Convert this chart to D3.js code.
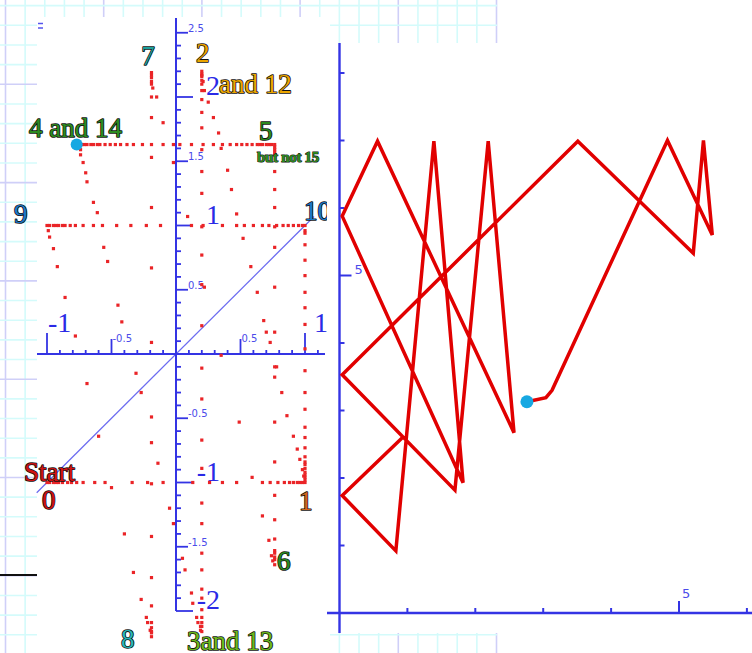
<!DOCTYPE html>
<html><head><meta charset="utf-8">
<script src="https://cdn.jsdelivr.net/npm/d3@7"></script>
<style>html,body{margin:0;padding:0;background:#fff;overflow:hidden}</style>
</head><body>
<svg id="c" width="752" height="653" xmlns="http://www.w3.org/2000/svg"></svg>
<script>
// ---------------- DATA (left: sampled positions of the moving point) ----------------
const keyframes = [[-1,-1],[1,-1],[0.2,2.2],[0.2,-2.17],[-0.77,1.63],[0.765,1.63],[0.765,-1.64],[-0.19,2.19],[-0.19,-2.2],[-1,1],[1,1]];
const row01X = [-1.00,-0.98,-0.95,-0.93,-0.91,-0.88,-0.84,-0.81,-0.77,-0.72,-0.63,-0.55,-0.34,-0.22,-0.10,0.13,0.26,0.36,0.47,0.67,0.73,0.79,0.84,0.88,0.91,0.94,0.96,0.98,1.00]; // y = -1
const curve12 = [[0.99,-0.95],[0.98,-0.90],[0.96,-0.82],[0.94,-0.74],[0.91,-0.64],[0.86,-0.48],[0.82,-0.30],[0.78,-0.10],[0.73,0.09],[0.70,0.17],[0.68,0.26],[0.63,0.48],[0.58,0.68],[0.52,0.90],[0.47,1.09],[0.43,1.28],[0.40,1.43],[0.35,1.60],[0.33,1.72],[0.29,1.84],[0.25,1.96],[0.22,2.05],[0.21,2.12],[0.20,2.17]];
const col23Y = [2.20,2.18,2.16,2.13,2.10,2.05,1.98,1.88,1.76,1.59,1.42,1.25,0.99,0.77,0.54,0.22,-0.11,-0.35,-0.67,-0.89,-1.16,-1.32,-1.55,-1.68,-1.83,-1.90,-1.99,-2.05,-2.09,-2.12,-2.16]; // x = 0.2
const curve34 = [[0.19,-2.15],[0.19,-2.12],[0.17,-2.09],[0.16,-2.05],[0.13,-1.94],[0.12,-1.86],[0.07,-1.68],[0.05,-1.59],[-0.02,-1.32],[-0.05,-1.20],[-0.14,-0.85],[-0.27,-0.30],[-0.31,-0.15],[-0.42,0.25],[-0.45,0.38],[-0.53,0.72],[-0.56,0.83],[-0.61,1.10],[-0.64,1.18],[-0.69,1.34],[-0.70,1.41],[-0.72,1.49],[-0.74,1.55],[-0.74,1.59],[-0.76,1.62]];
const row45X = [-0.73,-0.71,-0.69,-0.66,-0.64,-0.61,-0.59,-0.55,-0.51,-0.47,-0.43,-0.38,-0.33,-0.26,-0.19,-0.10,-0.02,0.03,0.12,0.21,0.29,0.36,0.42,0.47,0.51,0.55,0.59,0.63,0.65,0.67,0.70,0.72,0.74,0.765]; // y = 1.63
const col56Y = [1.61,1.59,1.57,1.55,1.42,1.28,1.14,0.99,0.83,0.52,0.17,-0.10,-0.18,-0.53,-0.84,-1.10,-1.29,-1.44,-1.53,-1.55,-1.58,-1.60,-1.64]; // x = 0.765
const curve67 = [[0.75,-1.61],[0.74,-1.57],[0.72,-1.45],[0.67,-1.26],[0.59,-0.96],[0.49,-0.53],[0.35,-0.01],[0.22,0.52],[0.09,1.07],[-0.02,1.49],[-0.10,1.80],[-0.15,2.00],[-0.18,2.07]];
const col78Y = [2.19,2.17,2.15,2.12,2.10,2.00,1.84,1.53,1.14,0.67,0.09,-0.49,-0.69,-1.01,-1.42,-1.74,-1.96,-2.09,-2.13,-2.16,-2.20]; // x = -0.19
const curve89 = [[-0.19,-2.17],[-0.20,-2.15],[-0.22,-2.09],[-0.23,-2.05],[-0.27,-1.91],[-0.33,-1.70],[-0.40,-1.40],[-0.50,-1.04],[-0.60,-0.64],[-0.69,-0.23],[-0.78,0.14],[-0.86,0.44],[-0.92,0.68],[-0.95,0.82],[-0.98,0.91],[-0.99,0.96]];
const row910X = [-1.00,-0.98,-0.95,-0.93,-0.91,-0.88,-0.86,-0.82,-0.78,-0.72,-0.64,-0.57,-0.46,-0.35,-0.23,-0.12,0.12,0.21,0.36,0.47,0.53,0.60,0.67,0.72,0.78,0.83,0.87,0.91,0.95,0.98,1.00]; // y = 1
const col1011Y = [0.96,0.94,0.85,0.73,0.61,0.48,0.36,0.23,0.04,-0.13,-0.30,-0.43,-0.57,-0.65,-0.73,-0.80,-0.84,-0.86,-0.89,-0.92,-0.94,-0.96,-0.98]; // x = 1
const currentPoint = [-0.77, 1.63];

// annotations (text, x, y in left data units, colour)
const labelText  = ["7","2","and 12","4 and 14","5","9","10","Start","0","1","6","8","3and 13"];
const labelX     = [-0.27,0.155,0.333,-1.14,0.643,-1.256,0.992,-1.178,-1.039,0.953,0.783,-0.426,0.085];
const labelY     = [2.25,2.27,2.03,1.69,1.665,1.019,1.043,-0.99,-1.205,-1.214,-1.681,-2.29,-2.305];
const labelColor = ["#1d9f9b","#eba500","#eba500","#2c8a1f","#2c8a1f","#1c78c6","#1c78c6","#d01212","#d01212","#d2661a","#2c8a1f","#27b7b7","#6cb81c"];
const noteText = "but not 15", noteX = 0.628, noteY = 1.494;

// axis tick labels
const yBigTicks = [2,1,-1,-2], ySmallTicks = [2.5,1.5,0.5,-0.5,-1.5];
const xBigTicks = [-1,1], xSmallTicks = [-0.5,0.5];

// ---------------- DATA (right: trace) ----------------
const traceX = [0.94,0.04,0.83,1.39,1.82,0.04,0.56,2.57,2.19,1.70,0.04,3.51,5.21,5.36,5.49,4.83,3.13,3.04,2.76];
const traceY = [2.61,1.74,0.92,6.99,1.93,5.88,6.99,2.67,6.99,1.82,3.53,6.99,5.33,7.00,5.60,7.00,3.30,3.19,3.13];
const rightXTicks = [1,2,3,4,5,6], rightYTicks = [1,2,3,4,5,6,7,8];

// ---------------- DRAW ----------------
const svg = d3.select("#c");
const FONT_SERIF = "'Liberation Serif','Times New Roman',serif";
const FONT_SANS = "'DejaVu Sans',Verdana,sans-serif";
const AX = "#3434e4";

// graph-paper background
const grid = svg.append("g");
grid.append("rect").attr("width",497).attr("height",653).attr("fill","#fff");
d3.range(0,26).forEach(k=>{
  grid.append("line").attr("x1",5.5+19.64*k).attr("x2",5.5+19.64*k).attr("y1",0).attr("y2",653)
    .attr("stroke", k%5===0 ? "#cfcff8" : "#d4fbfb").attr("stroke-width",1.6);
});
d3.range(0,34).forEach(k=>{
  grid.append("line").attr("y1",5.66+19.66*k).attr("y2",5.66+19.66*k).attr("x1",0).attr("x2",497)
    .attr("stroke", k%5===4 ? "#cfcff8" : "#d4fbfb").attr("stroke-width",1.6);
});
svg.append("line").attr("x1",0).attr("x2",37).attr("y1",575).attr("y2",575).attr("stroke","#111").attr("stroke-width",2);

// left panel
svg.append("rect").attr("x",37).attr("y",17).attr("width",293).attr("height",636).attr("fill","#fff");
svg.append("line").attr("x1",38).attr("x2",43).attr("y1",23.5).attr("y2",23.5).attr("stroke","#5555ee").attr("stroke-width",1.5);
svg.append("line").attr("x1",38).attr("x2",43).attr("y1",28).attr("y2",28).attr("stroke","#5555ee").attr("stroke-width",1.5);

const xL = d3.scaleLinear().domain([-1,1]).range([47,305]);
const yL = d3.scaleLinear().domain([-1,1]).range([482.5,225.5]);
const L = svg.append("g");

// diagonal
L.append("line").attr("x1",xL(-1.08)).attr("y1",yL(-1.08)).attr("x2",xL(1.07)).attr("y2",yL(1.07))
  .attr("stroke","#6c6cf0").attr("stroke-width",1.3);

// y axis
L.append("line").attr("x1",xL(0)).attr("x2",xL(0)).attr("y1",18).attr("y2",yL(-2)).attr("stroke",AX).attr("stroke-width",2);
d3.range(-20,26).forEach(i=>{
  if(i===0) return;
  const len = i%10===0 ? 17 : (i%5===0 ? 12 : 5);
  L.append("line").attr("x1",xL(0)).attr("x2",xL(0)+len).attr("y1",yL(i/10)).attr("y2",yL(i/10)).attr("stroke",AX).attr("stroke-width",1.8);
});
// x axis
L.append("line").attr("x1",37).attr("x2",325).attr("y1",yL(0)).attr("y2",yL(0)).attr("stroke",AX).attr("stroke-width",2);
d3.range(-10,12).forEach(i=>{
  if(i===0) return;
  const len = i%10===0 ? 21 : (i%5===0 ? 15 : 4);
  L.append("line").attr("x1",xL(i/10)).attr("x2",xL(i/10)).attr("y1",yL(0)).attr("y2",yL(0)-len).attr("stroke",AX).attr("stroke-width",1.8);
});
// tick labels
ySmallTicks.forEach(v=>L.append("text").attr("x",xL(0)+12).attr("y",yL(v)-1).text(v).attr("font-family",FONT_SANS).attr("font-size",10).attr("fill","#4b4bea"));
xSmallTicks.forEach(v=>L.append("text").attr("x",xL(v)+1).attr("y",yL(0)-12).text(v).attr("font-family",FONT_SANS).attr("font-size",10).attr("fill","#4b4bea"));
yBigTicks.forEach(v=>L.append("text").attr("x",xL(0)+44).attr("y",yL(v)-2).attr("text-anchor","end").text(v<0?"-"+(-v):v).attr("font-family",FONT_SERIF).attr("font-size",28).attr("fill","#2a2ae6"));
xBigTicks.forEach(v=>L.append("text").attr("x",xL(v)+(v<0?1:9)).attr("y",yL(0)-22).text(v<0?"-"+(-v):v).attr("font-family",FONT_SERIF).attr("font-size",28).attr("fill","#2a2ae6"));

// dots
const allDots = [].concat(
  row01X.map(x=>[x,-1]), curve12, col23Y.map(y=>[0.2,y]), curve34,
  row45X.map(x=>[x,1.63]), col56Y.map(y=>[0.765,y]), curve67, col78Y.map(y=>[-0.19,y]),
  curve89, row910X.map(x=>[x,1]), col1011Y.map(y=>[1,y]));
L.selectAll("rect.dot").data(allDots).enter().append("rect").attr("class","dot")
  .attr("x",d=>xL(d[0])-1.6).attr("y",d=>yL(d[1])-1.6).attr("width",3.2).attr("height",3.2).attr("fill","#ea2427");
L.append("circle").attr("cx",xL(currentPoint[0])).attr("cy",yL(currentPoint[1])).attr("r",6).attr("fill","#17a8e2");

// annotations
labelText.forEach((t,i)=>{
  L.append("text").attr("x",xL(labelX[i])).attr("y",yL(labelY[i])).text(t)
   .attr("font-family",FONT_SERIF).attr("font-size",27).attr("fill",labelColor[i])
   .attr("stroke","#111").attr("stroke-width",1.6).attr("paint-order","stroke").attr("stroke-linejoin","round");
});
L.append("text").attr("x",xL(noteX)).attr("y",yL(noteY)).text(noteText)
  .attr("font-family",FONT_SERIF).attr("font-size",15).attr("font-weight","bold").attr("letter-spacing",-0.3)
  .attr("fill","#2c8a1f").attr("stroke","#111").attr("stroke-width",1.1).attr("paint-order","stroke");

// right panel
svg.append("rect").attr("x",327).attr("y",43).attr("width",425).attr("height",590).attr("fill","#fff");
const xR = d3.scaleLinear().domain([0,5]).range([339.5,679]);
const yR = d3.scaleLinear().domain([0,5]).range([613,275.5]);
const R = svg.append("g");
R.append("line").attr("x1",xR(0)).attr("x2",xR(0)).attr("y1",43).attr("y2",633).attr("stroke",AX).attr("stroke-width",2.4);
R.append("line").attr("x1",327).attr("x2",752).attr("y1",yR(0)).attr("y2",yR(0)).attr("stroke",AX).attr("stroke-width",2.4);
rightYTicks.forEach(v=>R.append("line").attr("x1",xR(0)).attr("x2",xR(0)+(v===5?12:5)).attr("y1",yR(v)).attr("y2",yR(v)).attr("stroke",AX).attr("stroke-width",2));
rightXTicks.forEach(v=>R.append("line").attr("x1",xR(v)).attr("x2",xR(v)).attr("y1",yR(0)).attr("y2",yR(0)-(v===5?12:5)).attr("stroke",AX).attr("stroke-width",2));
R.append("text").attr("x",xR(0)+15).attr("y",yR(5)-2).text("5").attr("font-family",FONT_SANS).attr("font-size",13).attr("fill","#4b4bea");
R.append("text").attr("x",xR(5)+3).attr("y",yR(0)-15).text("5").attr("font-family",FONT_SANS).attr("font-size",13).attr("fill","#4b4bea");

const trace = traceX.map((x,i)=>[x,traceY[i]]);
R.append("path").datum(trace).attr("d",d3.line().x(d=>xR(d[0])).y(d=>yR(d[1])))
  .attr("fill","none").attr("stroke","#e10000").attr("stroke-width",3.5).attr("stroke-linejoin","miter").attr("stroke-miterlimit",3);
const last = trace[trace.length-1];
R.append("circle").attr("cx",xR(last[0])).attr("cy",yR(last[1])).attr("r",6.5).attr("fill","#17a8e2");
</script>
</body></html>
